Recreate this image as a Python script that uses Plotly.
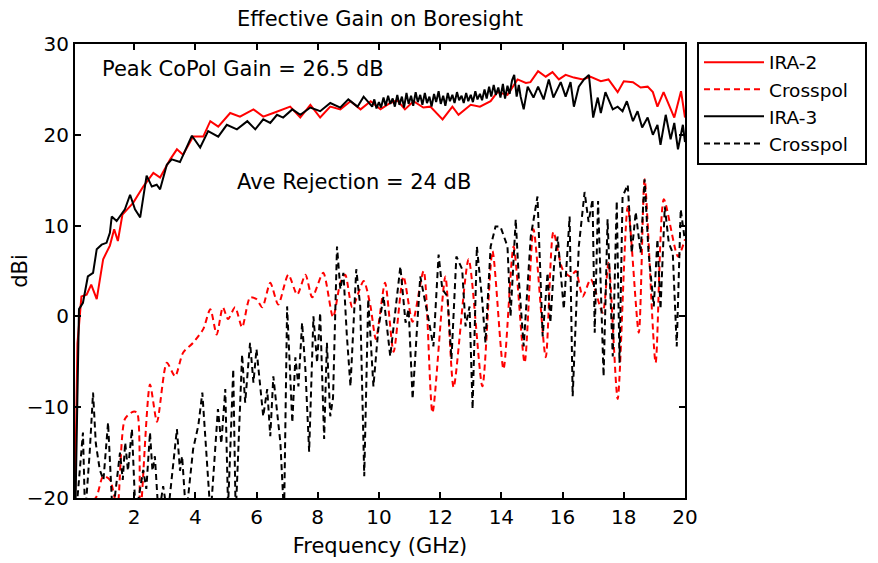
# Effective gain on boresight - IRA-2 vs IRA-3, copol and crosspol
import plotly.graph_objects as go

# IRA-2 copol (red solid)
ira2_f = [0.07, 0.15, 0.28, 0.45, 0.6, 0.78, 0.99, 1.21, 1.35, 1.47, 1.62, 1.97, 2.3, 2.63,
          2.85, 3.18, 3.4, 3.6, 3.93, 4.26, 4.49, 4.75, 5.14, 5.46, 5.9, 6.22, 6.55, 7.1,
          7.43, 7.76, 8.08, 8.41, 8.74, 9.07, 9.4, 9.73, 10.05, 10.37, 10.6, 10.85, 11.13,
          11.45, 11.68, 12.08, 12.4, 12.6, 13.0, 13.3, 13.65, 13.87, 14.2, 14.53, 14.8,
          14.95, 15.2, 15.45, 15.67, 15.88, 16.1, 16.37, 16.66, 16.9, 17.25, 17.5, 17.8,
          18.0, 18.3, 18.55, 18.78, 18.95, 19.1, 19.3, 19.65, 19.87, 20.0]
ira2_g = [-20, -3, 2.2, 2.4, 3.5, 1.9, 6.3, 7.8, 9.6, 8.3, 11.2, 12.5, 14.3, 15.8,
          15.3, 17.3, 18.4, 17.8, 19.8, 19.8, 21.5, 20.9, 22.4, 22.0, 22.8, 22.0, 22.4, 23.1,
          21.9, 23.3, 21.9, 23.1, 22.8, 23.7, 22.8, 23.7, 22.8, 23.5, 23.8, 22.8, 23.7,
          23.0, 23.1, 21.7, 23.1, 22.2, 23.3, 23.1, 23.7, 24.7, 24.4, 26.1, 25.7,
          25.8, 27.0, 26.4, 26.9, 26.1, 26.6, 26.3, 26.1, 26.4, 25.9, 26.1, 24.7,
          25.9, 25.8, 25.2, 25.3, 24.7, 23.1, 24.7, 21.9, 24.8, 21.9]

# IRA-2 crosspol (red dashed)
ira2x_f = [0.25, 0.5, 0.78, 0.99, 1.21, 1.45, 1.7, 1.97, 2.1, 2.2, 2.52, 2.75, 3.07, 3.34,
           3.6, 3.93, 4.26, 4.49, 4.7, 4.9, 5.07, 5.3, 5.53, 5.79, 6.0, 6.19, 6.45, 6.71,
           7.04, 7.33, 7.6, 7.82, 8.18, 8.5, 8.74, 8.9, 9.13, 9.5, 9.72, 9.9, 10.2, 10.48,
           10.8, 11.1, 11.46, 11.75, 12.17, 12.44, 12.93, 13.38, 13.71, 14.07, 14.4, 14.76,
           15.05, 15.45, 15.7, 16.0, 16.26, 16.43, 16.66, 16.92, 17.31, 17.5, 17.8, 18.13,
           18.49, 18.68, 19.04, 19.31, 19.77, 20.0]
ira2x_g = [-22, -21, -19.8, -17.6, -18.0, -21, -11.3, -10.5, -10.6, -22, -7.5, -11.6, -5.1, -6.6,
           -4.0, -2.9, -1.4, 0.8, -2.0, 1.0, -0.3, 1.0, -1.2, 2.1, 1.9, 1.0, 3.7, 1.3,
           4.6, 2.4, 4.6, 2.1, 4.8, -0.1, 3.7, 4.6, 1.0, 3.9, 1.2, -2.5, 3.7, -3.9,
           4.4, -0.6, 5.0, -10.6, 4.4, -7.8, 6.3, -7.7, 7.2, -5.8, 7.7, -5.1,
           9.6, -4.5, 9.3, 5.2, 4.4, 5.0, 2.2, 4.1, 0.4, 5.9, -9.1, 12.1,
           -1.8, 15.1, -5.1, 12.9, 6.6, 8.5]

# IRA-3 copol (black solid)
ira3_f = [0.09, 0.2, 0.33, 0.49, 0.66, 0.78, 0.94, 1.1, 1.21, 1.27, 1.43, 1.7, 1.87, 2.03,
          2.2, 2.41, 2.58, 2.74, 2.85, 3.07, 3.23, 3.5, 3.89, 4.16, 4.42, 4.75, 5.03, 5.36,
          5.7, 5.96, 6.22, 6.45, 6.67, 6.87, 7.17, 7.43, 7.76, 8.08, 8.41, 8.74, 9.0, 9.3,
          9.5, 9.78, 9.85, 9.92, 10.0, 10.07, 10.15, 10.22, 10.3, 10.37, 10.45, 10.52,
          10.6, 10.67, 10.75, 10.82, 10.9, 10.97, 11.05, 11.12, 11.2, 11.27, 11.35, 11.42,
          11.5, 11.57, 11.65, 11.72, 11.8, 11.87, 11.95, 12.02, 12.1, 12.17, 12.25, 12.32,
          12.4, 12.47, 12.55, 12.62, 12.7, 12.77, 12.85, 12.92, 13.0, 13.07, 13.15, 13.22,
          13.3, 13.37, 13.45, 13.52, 13.6, 13.67, 13.75, 13.82, 13.9, 13.97, 14.05, 14.12,
          14.2, 14.27, 14.35, 14.42, 14.5, 14.57, 14.63, 14.73, 14.86, 15.05, 15.2, 15.38,
          15.55, 15.7, 15.94, 16.1, 16.26, 16.37, 16.53, 16.7, 16.86, 17.0, 17.15, 17.25,
          17.4, 17.64, 17.8, 17.96, 18.1, 18.3, 18.45, 18.6, 18.78, 18.95, 19.1, 19.2,
          19.37, 19.53, 19.65, 19.77, 19.93, 20.0]
ira3_g = [-20, 0.8, 1.5, 4.4, 4.8, 7.4, 7.9, 8.1, 9.2, 11.0, 10.5, 11.8, 13.4, 11.8,
          10.9, 15.5, 14.3, 14.5, 14.0, 16.7, 17.3, 17.0, 19.9, 18.6, 20.4, 19.8, 21.1, 20.6,
          21.5, 20.6, 21.7, 21.3, 22.2, 21.9, 22.8, 22.2, 23.0, 22.6, 23.5, 23.0, 23.9, 23.1,
          24.2, 23.1, 23.9, 22.9, 23.6, 23.0, 24.1, 23.2, 24.3, 23.4, 24.0, 23.1,
          24.4, 23.3, 24.2, 23.0, 24.6, 23.4, 24.3, 23.2, 24.7, 23.6, 24.4, 23.3,
          24.6, 23.5, 24.2, 23.1, 24.5, 23.6, 24.8, 23.4, 24.3, 23.2, 24.6, 23.7,
          24.4, 23.5, 24.7, 23.8, 24.3, 23.5, 24.6, 23.7, 24.4, 23.6, 24.8, 23.9,
          24.5, 23.8, 25.0, 24.0, 25.3, 24.2, 25.5, 24.4, 25.2, 24.1, 25.6, 24.0,
          25.4, 24.5, 26.0, 26.6, 24.2, 25.5, 24.2, 22.8, 25.3, 24.1, 25.3, 23.9,
          26.1, 24.1, 25.8, 24.2, 25.8, 23.1, 25.3, 26.1, 26.6, 21.9, 24.1, 22.4,
          24.7, 22.8, 23.1, 22.6, 23.7, 21.5, 22.6, 20.8, 21.9, 20.0, 21.1, 18.9,
          22.2, 19.5, 21.3, 18.4, 21.1, 19.2]

# IRA-3 crosspol (black dashed)
ira3x_f = [0.1, 0.33, 0.4, 0.55, 0.66, 0.75, 0.88, 1.0, 1.15, 1.3, 1.54, 1.63, 1.71, 1.8,
           1.93, 2.05, 2.3, 2.4, 2.52, 2.6, 2.68, 2.8, 2.95, 3.1, 3.4, 3.5, 3.57, 3.7,
           3.93, 4.1, 4.23, 4.35, 4.5, 4.74, 4.85, 4.98, 5.07, 5.14, 5.24, 5.32, 5.53, 5.63,
           5.79, 5.9, 6.0, 6.22, 6.35, 6.45, 6.55, 6.78, 6.9, 7.0, 7.17, 7.27, 7.37, 7.49,
           7.6, 7.72, 7.86, 7.98, 8.08, 8.21, 8.3, 8.41, 8.5, 8.63, 8.74, 8.84, 8.95, 9.07,
           9.26, 9.39, 9.52, 9.65, 9.82, 9.98, 10.15, 10.37, 10.7, 10.87, 10.97, 11.1, 11.35,
           11.62, 11.78, 11.95, 12.07, 12.24, 12.37, 12.53, 12.72, 12.83, 12.96, 13.06, 13.2,
           13.37, 13.48, 13.65, 13.81, 13.97, 14.2, 14.3, 14.47, 14.57, 14.73, 14.96, 15.18,
           15.35, 15.51, 15.6, 15.72, 15.84, 16.04, 16.23, 16.33, 16.53, 16.72, 16.85, 16.98,
           17.05, 17.16, 17.34, 17.47, 17.64, 17.77, 17.86, 17.96, 18.13, 18.26, 18.39, 18.55,
           18.68, 18.81, 18.98, 19.1, 19.2, 19.34, 19.47, 19.6, 19.73, 19.86, 19.99]
ira3x_g = [-22, -12.8, -22, -15, -8.4, -14, -16.9, -18, -11.7, -22, -15.0, -18, -13.9, -17,
           -12.4, -22, -16.9, -19, -12.8, -17, -15.4, -22, -18.7, -22, -12.4, -17, -15.4, -22,
           -14.6, -12, -8.4, -15, -22, -10.2, -14, -8.0, -21, -15.0, -5.8, -22, -4.2, -9.5,
           -2.9, -7.3, -3.6, -11.0, -8, -13.2, -6.6, -13.9, -22, 1.1, -11.7, -4.5, -7.7, -0.7,
           -6, -14.9, 0.0, -5.1, 0.4, -13.5, -2.9, -11.0, -9, 7.7, 3.0, 4.8, -2, -7.7,
           5.2, 1.1, -17.6, 1.9, -7.7, -1.4, 2.2, -4.4, 5.5, -0.7, 0.8, -9.1, 4.4,
           -0.3, -3.3, 6.8, 3.0, 2.2, -4.7, 6.6, 5.2, -1.1, 1.1, -10.2, 7.7,
           1.9, -2.9, 7.7, 9.9, 9.9, 7.7, 0.0, 10.7, 4.1, -3.3, 8.8, 13.2,
           -2.2, 4.8, -0.7, 5.5, 8.8, 0.8, 11.0, -8.8, 7.7, 13.7, 10.4, 12.9,
           -1.8, 12.7, -6.6, 10.7, -4.4, 12.7, -5.1, 13.2, 14.5, 7.0, 11.5, 7.0,
           15.1, 7.0, 1.1, 8.5, 0.8, 12.1, 8.1, 7.0, -3.3, 11.8, 8.5]

FONT = "DejaVu Sans"
DASH = "6px,4px"
PAD = "\u00a0" * 2   # a little extra room on the right of the legend box

fig = go.Figure()

fig.add_trace(go.Scatter(x=ira2_f, y=ira2_g, mode="lines", name="IRA-2" + PAD,
                         line=dict(color="#ff0000", width=2)))
fig.add_trace(go.Scatter(x=ira2x_f, y=ira2x_g, mode="lines", name="Crosspol" + PAD,
                         line=dict(color="#ff0000", width=2, dash=DASH, shape="spline", smoothing=0.7)))
fig.add_trace(go.Scatter(x=ira3_f, y=ira3_g, mode="lines", name="IRA-3" + PAD,
                         line=dict(color="#000000", width=2)))
fig.add_trace(go.Scatter(x=ira3x_f, y=ira3x_g, mode="lines", name="Crosspol" + PAD,
                         line=dict(color="#000000", width=2, dash=DASH)))

# text labels inside the plot
fig.add_annotation(x=0.89, y=27.2, xref="x", yref="y", text="Peak CoPol Gain = 26.5 dB",
                   showarrow=False, xanchor="left", font=dict(size=21, color="black"))
fig.add_annotation(x=5.3, y=14.75, xref="x", yref="y", text="Ave Rejection = 24 dB",
                   showarrow=False, xanchor="left", font=dict(size=21, color="black"))

# page has an 8px body margin, so the figure is a bit smaller than the window
fig.update_layout(
    width=870, height=555,
    margin=dict(l=67, r=192, t=36, b=65),
    paper_bgcolor="white", plot_bgcolor="white",
    font=dict(family=FONT, size=20, color="black"),
    title=dict(text="Effective Gain on Boresight", x=0.5, xref="paper",
               y=0.98, yanchor="middle", font=dict(size=21)),
    showlegend=True,
    legend=dict(x=1.018, y=1.005, xanchor="left", yanchor="top",
                bordercolor="black", borderwidth=2, bgcolor="white",
                font=dict(size=18.5), tracegroupgap=0, itemwidth=60),
)

fig.update_xaxes(range=[0.07, 20], tickvals=[2, 4, 6, 8, 10, 12, 14, 16, 18, 20],
                 showgrid=False, zeroline=False, showline=True, linecolor="black", linewidth=2,
                 mirror="ticks", ticks="inside", ticklen=6, tickwidth=1.5, tickcolor="black",
                 tickfont=dict(size=20), automargin=False,
                 title=dict(text="Frequency (GHz)", standoff=10, font=dict(size=21)))
fig.update_yaxes(range=[-20, 30], tickvals=[-20, -10, 0, 10, 20, 30],
                 showgrid=False, zeroline=False, showline=True, linecolor="black", linewidth=2,
                 mirror="ticks", ticks="inside", ticklen=6, tickwidth=1.5, tickcolor="black",
                 tickfont=dict(size=20), automargin=False,
                 title=dict(text="dBi", standoff=8, font=dict(size=21)))

fig.write_html("out.html")
